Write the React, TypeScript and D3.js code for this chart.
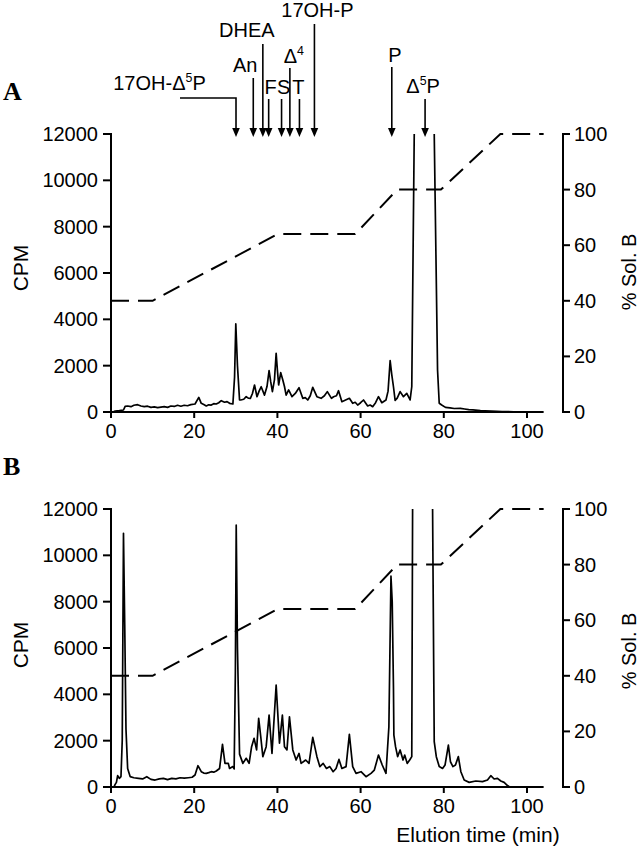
import React from "react";
import * as d3 from "d3";

// ---------- data ----------
const timeTicks = [0, 20, 40, 60, 80, 100];
const cpmTicks = [0, 2000, 4000, 6000, 8000, 10000, 12000];
const solTicks = [0, 20, 40, 60, 80, 100];

// Panel A radiochromatogram (min, CPM); values above 12000 are off-scale
const traceA: [number, number][] = [
  [0.5, 0], [1, 40], [2, 60], [3, 86], [3.4, 240], [4, 260], [4.8, 230], [5.5, 290], [6.4, 316],
  [7.2, 260], [8, 230], [8.8, 250], [9.6, 200], [10.4, 220], [11.2, 187], [12, 210], [12.8, 230],
  [13.6, 200], [14.4, 260], [15.2, 240], [16, 290], [16.8, 250], [17.6, 290], [18.4, 270], [19.2, 316],
  [20.2, 345], [21.1, 630], [21.7, 375], [22.3, 320], [22.9, 260], [23.5, 310], [24.1, 300], [24.7, 360],
  [25.3, 345], [25.9, 400], [26.5, 490], [27.3, 420], [27.9, 450], [28.5, 375], [29.3, 345], [29.7, 1500],
  [30.0, 3800], [30.4, 2000], [30.9, 520], [31.2, 518], [31.9, 550], [32.5, 660], [33.0, 600], [33.5, 590],
  [34.0, 800], [34.5, 1165], [35.1, 660], [35.6, 900], [36.1, 1090], [36.9, 730], [37.5, 1100], [38.0, 1785],
  [38.4, 1300], [38.8, 880], [39.3, 1400], [39.7, 2530], [40.0, 1800], [40.3, 1165], [40.8, 1700], [41.3, 1380],
  [41.7, 1100], [42.1, 730], [42.7, 950], [43.5, 660], [44.3, 800], [45.2, 1050], [46.1, 590], [46.7, 620],
  [47.3, 518], [47.9, 700], [48.5, 1065], [49.5, 660], [50.5, 590], [51.3, 700], [52.0, 880], [53.0, 590],
  [53.5, 660], [54.2, 700], [54.7, 920], [55.5, 445], [56.4, 518], [57.3, 590], [58.1, 375], [58.7, 420],
  [59.3, 300], [60.0, 400], [60.7, 518], [61.7, 260], [62.3, 300], [62.9, 230], [63.6, 400], [64.3, 660],
  [65.1, 400], [66.1, 518], [66.6, 900], [67.1, 2215], [67.5, 1600], [67.9, 1090], [68.3, 500], [68.8, 600],
  [69.5, 880], [70.3, 660], [71.1, 800], [71.9, 520], [72.3, 1090], [72.9, 12100], [73.2, 14000],
  [75.0, 30000], [77.5, 14000], [77.7, 12000], [78.5, 1800], [78.9, 375], [79.5, 300], [80.4, 200],
  [81.5, 180], [82.5, 150], [84.0, 160], [85.0, 130], [86.0, 100], [87.0, 90], [88.8, 60], [90.0, 50],
  [92.8, 30], [94.0, 20], [96.8, 10], [98.0, 0],
];

// Panel B radiochromatogram (min, CPM)
const traceB: [number, number][] = [
  [0.7, 0], [1, 115], [1.3, 200], [1.6, 490], [2.0, 375], [2.4, 450], [2.7, 2000], [3.0, 10950],
  [3.3, 7000], [3.6, 2500], [4.0, 800], [4.6, 450], [5.5, 400], [6.6, 375], [7.6, 350], [8.6, 445],
  [9.6, 330], [10.6, 300], [11.6, 350], [12.6, 375], [13.6, 320], [14.6, 375], [15.6, 350], [16.6, 400],
  [17.6, 380], [18.6, 400], [19.5, 420], [20.2, 518], [20.9, 920], [21.7, 660], [22.3, 600], [22.9, 590],
  [23.5, 620], [24.1, 660], [24.7, 640], [25.3, 690], [26.1, 800], [26.8, 1840], [27.4, 1020], [28.2, 1020],
  [28.5, 800], [29.3, 880], [29.6, 780], [29.9, 5000], [30.1, 11300], [30.4, 6000], [30.9, 1420],
  [31.7, 1020], [32.5, 1240], [33.2, 1020], [33.8, 1740], [34.4, 2100], [35.0, 1600], [35.5, 2960],
  [36.0, 2170], [36.5, 1310], [37.3, 1740], [38.0, 3100], [38.7, 1450], [39.7, 4400], [40.5, 1890],
  [41.2, 3100], [41.7, 1740], [42.3, 1600], [42.9, 3030], [43.7, 1600], [44.5, 1165], [45.2, 1450],
  [45.7, 1020], [46.8, 1165], [47.6, 1020], [48.5, 2140], [49.5, 1310], [50.2, 880], [51.0, 1020],
  [51.8, 800], [52.6, 880], [53.4, 660], [54.1, 800], [54.8, 1190], [55.5, 800], [56.5, 880], [57.3, 2270],
  [58.1, 880], [58.9, 590], [60.1, 660], [61.3, 445], [62.5, 590], [63.3, 730], [64.3, 1380], [65.2, 950],
  [66.1, 590], [66.8, 2600], [67.3, 9100], [67.6, 8000], [67.9, 4270], [68.0, 2240], [68.4, 1740],
  [68.9, 1310], [69.5, 1600], [70.2, 1165], [70.6, 1380], [71.2, 1020], [71.8, 1165], [72.3, 1310],
  [72.5, 12100], [72.8, 14000], [75.0, 30000], [77.1, 14000], [77.3, 12100], [77.7, 1960], [78.2, 1310],
  [78.9, 880], [79.7, 800], [80.3, 950], [81.1, 1810], [81.6, 1090], [82.2, 880], [82.8, 950], [83.5, 1310],
  [84.1, 660], [84.9, 300], [86.1, 200], [87.7, 260], [89.3, 230], [90.5, 300], [91.3, 490], [92.1, 345],
  [92.9, 375], [93.7, 260], [94.5, 200], [95.3, 60], [95.9, 0],
];

// Solvent gradient (% Sol. B)
const gradientA: [number, number][] = [
  [0, 40], [10, 40], [40, 64], [58.7, 64], [68.8, 80], [79.3, 80], [93.6, 100], [104, 100],
];
const gradientB: [number, number][] = [
  [0, 40], [10, 40], [40, 64], [58.7, 64], [68.8, 80], [79.3, 80], [93.6, 100], [104, 100],
];

// Standards marked above panel A
const markerNames = ["17OH-Δ5P", "An", "DHEA", "F", "S", "Δ4", "T", "17OH-P", "P", "Δ5P"];
const markerTimes = [30.05, 34.2, 36.5, 37.9, 41.0, 43.0, 45.3, 48.9, 67.5, 75.5];

// ---------- layout ----------
const W = 642;
const H = 853;
const FONT = "'Liberation Sans', Arial, Helvetica, sans-serif";
const PANEL_SHIFT = 375;

// annotation layout: arrow top, label baseline, label x offset
const annLayout = [
  { top: 98, base: 90, dx: 0, elbowX: 180, labelX: 159.5 },
  { top: 78, base: 72, dx: -8 },
  { top: 44, base: 37, dx: -16 },
  { top: 99, base: 94, dx: 2 },
  { top: 99, base: 94, dx: 2 },
  { top: 68, base: 63, dx: 4 },
  { top: 99, base: 94, dx: -1 },
  { top: 24, base: 17, dx: 3 },
  { top: 67, base: 62, dx: 3 },
  { top: 99, base: 93, dx: -2 },
];

const x = d3.scaleLinear().domain([0, 104]).range([111, 111 + 104 * 4.16]);

function Label({ text, size }: { text: string; size: number }) {
  const m = text.match(/^(.*Δ)(\d)(.*)$/);
  if (!m) return <>{text}</>;
  return (
    <>
      <tspan>{m[1]}</tspan>
      <tspan fontSize={size * 0.62} dy={-size * 0.42}>{m[2]}</tspan>
      <tspan dy={size * 0.42}>{m[3]}</tspan>
    </>
  );
}

function Panel({
  offset,
  trace,
  gradient,
  letter,
  id,
  cpmY,
  solY,
}: {
  offset: number;
  trace: [number, number][];
  gradient: [number, number][];
  letter: string;
  id: string;
  cpmY: number;
  solY: number;
}) {
  const y = d3.scaleLinear().domain([0, 12000]).range([412 + offset, 134 + offset]);
  const s = d3.scaleLinear().domain([0, 100]).range([412 + offset, 134 + offset]);
  const line = d3
    .line<[number, number]>()
    .x((d) => x(d[0]))
    .y((d) => y(d[1]));
  const gline = d3
    .line<[number, number]>()
    .x((d) => x(d[0]))
    .y((d) => s(d[1]));
  const x0 = x(0);
  const x1 = x(104);
  const yb = y(0);
  const yt = y(12000);
  const xr = 563;
  return (
    <g>
      <defs>
        <clipPath id={id}>
          <rect x={x0} y={yt} width={x1 - x0} height={yb - yt} />
        </clipPath>
      </defs>
      <text x={3} y={100 + offset} fontFamily="'Liberation Serif', 'Times New Roman', serif" fontWeight="bold" fontSize={26}>
        {letter}
      </text>
      <path d={gline(gradient) || ""} fill="none" stroke="#000" strokeWidth={2} strokeDasharray="18,9" />
      <path d={line(trace) || ""} fill="none" stroke="#000" strokeWidth={1.7} strokeLinejoin="round" clipPath={`url(#${id})`} />
      <line x1={x0} x2={x0} y1={yt - 1} y2={yb + 1} stroke="#000" strokeWidth={2} />
      {cpmTicks.map((t) => (
        <g key={t}>
          <line x1={x0 - 8} x2={x0} y1={y(t)} y2={y(t)} stroke="#000" strokeWidth={2} />
          <text x={x0 - 13} y={y(t)} dy="0.35em" textAnchor="end" fontFamily={FONT} fontSize={20}>
            {t}
          </text>
        </g>
      ))}
      <line x1={xr} x2={xr} y1={s(100) - 1} y2={s(0) + 1} stroke="#000" strokeWidth={2} />
      {solTicks.map((t) => (
        <g key={t}>
          <line x1={xr} x2={xr + 7} y1={s(t)} y2={s(t)} stroke="#000" strokeWidth={2} />
          <text x={xr + 11} y={s(t)} dy="0.35em" textAnchor="start" fontFamily={FONT} fontSize={20}>
            {t}
          </text>
        </g>
      ))}
      <line x1={x0 - 1} x2={x1} y1={yb} y2={yb} stroke="#000" strokeWidth={2} />
      {timeTicks.map((t) => (
        <g key={t}>
          <line x1={x(t)} x2={x(t)} y1={yb} y2={yb + 6} stroke="#000" strokeWidth={2} />
          <text x={x(t)} y={yb + 26} textAnchor="middle" fontFamily={FONT} fontSize={20}>
            {t}
          </text>
        </g>
      ))}
      <text transform={`translate(28,${cpmY}) rotate(-90)`} textAnchor="middle" fontFamily={FONT} fontSize={21}>
        CPM
      </text>
      <text transform={`translate(636,${solY}) rotate(-90)`} textAnchor="middle" fontFamily={FONT} fontSize={20}>
        % Sol. B
      </text>
    </g>
  );
}

function Annotations() {
  const tipY = 137;
  return (
    <g>
      {markerNames.map((name, i) => {
        const ax = x(markerTimes[i]);
        const L = annLayout[i];
        const lx = L.labelX !== undefined ? L.labelX : ax + L.dx;
        return (
          <g key={name}>
            {L.elbowX !== undefined ? (
              <path d={`M${L.elbowX},${L.top}H${ax}V${tipY - 8}`} fill="none" stroke="#000" strokeWidth={1.6} />
            ) : (
              <line x1={ax} x2={ax} y1={L.top} y2={tipY - 8} stroke="#000" strokeWidth={1.6} />
            )}
            <path d={`M${ax - 3.8},${tipY - 9}L${ax + 3.8},${tipY - 9}L${ax},${tipY}Z`} fill="#000" />
            <text x={lx} y={L.base} textAnchor="middle" fontFamily={FONT} fontSize={20}>
              <Label text={name} size={20} />
            </text>
          </g>
        );
      })}
    </g>
  );
}

export default function App() {
  return (
    <svg
      width={W}
      height={H}
      viewBox={`0 0 ${W} ${H}`}
      style={{ position: "absolute", left: 0, top: 0, background: "#fff" }}
    >
      <rect width={W} height={H} fill="#fff" />
      <Annotations />
      <Panel offset={0} trace={traceA} gradient={gradientA} letter="A" id="clipA" cpmY={268} solY={272} />
      <Panel offset={PANEL_SHIFT} trace={traceB} gradient={gradientB} letter="B" id="clipB" cpmY={645} solY={651} />
      <text x={478} y={842} textAnchor="middle" fontFamily={FONT} fontSize={21}>
        Elution time (min)
      </text>
    </svg>
  );
}
